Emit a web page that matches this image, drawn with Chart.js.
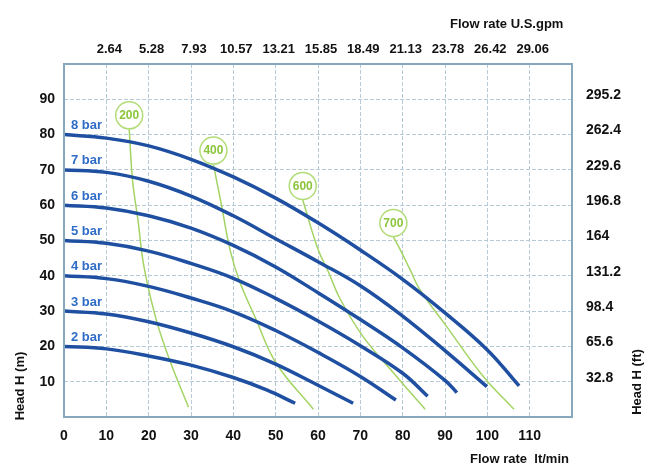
<!DOCTYPE html>
<html>
<head>
<meta charset="utf-8">
<script src="https://cdn.jsdelivr.net/npm/chart.js@4/dist/chart.umd.min.js"></script>
<style>
  html, body { margin: 0; padding: 0; background: #fff; }
  canvas { display: block; }
</style>
</head>
<body>
<canvas id="pump" width="656" height="466"></canvas>
<script>
"use strict";
// pump curves: [flow lt/min, head m]
const bar2 = [[0, 20], [10, 19.3], [20, 17.3], [30, 14.7], [40, 11.2], [48, 7.6], [54.6, 3.9]];
const bar3 = [[0, 30], [10, 29.2], [20, 27], [30, 23.8], [40, 19.9], [50, 15], [60, 9], [68.3, 3.9]];
const bar4 = [[0, 40], [10, 39.2], [20, 37], [30, 33.7], [40, 29.8], [50, 24.5], [60, 18.3], [70, 11.5], [78.4, 4.8]];
const bar5 = [[0, 50], [10, 49.2], [20, 47], [30, 43.5], [40, 39.3], [50, 33.6], [60, 27.2], [70, 20.2], [80, 12.4], [85.9, 5.9]];
const bar6 = [[0, 60], [10, 59.2], [20, 57], [30, 53.5], [40, 48.6], [50, 42.5], [60, 35.2], [70, 27.6], [80, 19.6], [90, 10.4], [92.8, 6.9]];
const bar7 = [[0, 70], [10, 69.3], [20, 66.8], [30, 62.6], [40, 57], [50, 50.5], [60, 44], [70, 37.2], [80, 28.6], [90, 18.8], [99.9, 8.6]];
const bar8 = [[0, 80], [10, 79], [20, 76.8], [30, 73], [40, 68], [50, 62], [60, 55], [70, 47.3], [80, 39], [90, 29.5], [100, 19], [107.5, 8.8]];
const barNames = ['2 bar', '3 bar', '4 bar', '5 bar', '6 bar', '7 bar', '8 bar'];

// air consumption lines (Nl/min)
const air200 = [[15.4, 81.5], [16.2, 67], [17.5, 55.5], [18.9, 42.5], [21.8, 27.5], [25, 16], [29.4, 2.8]];
const air400 = [[35.3, 71.5], [37.2, 60], [39.3, 47], [41.6, 38], [45.1, 28.4], [50.1, 15.3], [58.9, 2.2]];
const air600 = [[56.4, 61.5], [60, 47.5], [62.5, 41], [65.2, 33.5], [70.7, 22.7], [78.6, 11.4], [85.3, 2.2]];
const air700 = [[77.8, 51], [79.6, 47], [81.8, 41.6], [84.1, 36], [90.4, 25.6], [99.1, 11.4], [106.3, 2.2]];
const airNames = ['200', '400', '600', '700'];

// tick labels of the secondary axes
const gpmLabels = ['2.64', '5.28', '7.93', '10.57', '13.21', '15.85', '18.49', '21.13', '23.78', '26.42', '29.06'];
const ftLabels = ['32.8', '65.6', '98.4', '131.2', '164', '196.8', '229.6', '262.4', '295.2'];

const FONT = '"Liberation Sans", Arial, sans-serif';
const toPts = arr => arr.map(p => ({ x: p[0], y: p[1] }));

const datasets = [];
[bar8, bar7, bar6, bar5, bar4, bar3, bar2].forEach((c, i) => {
    datasets.push({
        kind: 'bar',
        tag: barNames[6 - i],
        data: toPts(c),
        borderColor: '#1f4fa0',
        borderWidth: 3.5,
        tension: 0.4,
        pointRadius: 0,
        showLine: true
    });
});
[air200, air400, air600, air700].forEach((c, i) => {
    datasets.push({
        kind: 'air',
        tag: airNames[i],
        data: toPts(c),
        borderColor: '#a3d463',
        borderWidth: 1.5,
        tension: 0.4,
        pointRadius: 0,
        showLine: true
    });
});

const grid = { color: '#b7cad8', lineWidth: 1, drawTicks: false };
const noBorder = { display: false, dash: [4, 2] };

const decor = {
    id: 'decor',
    afterDatasetsDraw(chart) {
        const { ctx, chartArea: a } = chart;
        ctx.save();
        ctx.strokeStyle = '#87a7bb';
        ctx.lineWidth = 2;
        ctx.strokeRect(a.left, a.top, a.right - a.left, a.bottom - a.top);
        chart.data.datasets.forEach((ds, i) => {
            const p = chart.getDatasetMeta(i).data[0];
            if (ds.kind === 'bar') {
                ctx.font = 'bold 13px ' + FONT;
                ctx.fillStyle = '#2f6cc6';
                ctx.textAlign = 'left';
                ctx.textBaseline = 'middle';
                ctx.fillText(ds.tag, p.x + 7, p.y - 9);
            } else {
                const cy = p.y - 14;
                ctx.beginPath();
                ctx.arc(p.x, cy, 13.5, 0, Math.PI * 2);
                ctx.fillStyle = '#fff';
                ctx.fill();
                ctx.strokeStyle = '#b2dc78';
                ctx.lineWidth = 1.5;
                ctx.stroke();
                ctx.font = 'bold 12px ' + FONT;
                ctx.fillStyle = '#8cc43c';
                ctx.textAlign = 'center';
                ctx.textBaseline = 'middle';
                ctx.fillText(ds.tag, p.x, cy + 0.5);
            }
        });
        ctx.restore();
    },
    afterDraw(chart) {
        const ctx = chart.ctx;
        ctx.save();
        ctx.font = 'bold 13px ' + FONT;
        ctx.fillStyle = '#111';
        ctx.textBaseline = 'middle';
        ctx.textAlign = 'left';
        ctx.fillText('Flow rate U.S.gpm', 450, 24);
        ctx.fillText('Flow rate  lt/min', 470, 459);
        ctx.textAlign = 'center';
        ctx.translate(20, 386);
        ctx.rotate(-Math.PI / 2);
        ctx.fillText('Head H (m)', 0, 0);
        ctx.restore();
        ctx.save();
        ctx.font = 'bold 13px ' + FONT;
        ctx.fillStyle = '#111';
        ctx.textBaseline = 'middle';
        ctx.textAlign = 'center';
        ctx.translate(637, 382);
        ctx.rotate(-Math.PI / 2);
        ctx.fillText('Head H (ft)', 0, 0);
        ctx.restore();
    }
};

new Chart(document.getElementById('pump'), {
    type: 'scatter',
    data: { datasets: datasets },
    options: {
        responsive: false,
        devicePixelRatio: 1,
        animation: false,
        layout: { padding: 0 },
        plugins: { legend: { display: false }, tooltip: { enabled: false } },
        scales: {
            x: {
                type: 'linear', position: 'bottom', min: 0, max: 120,
                grid: grid, border: noBorder,
                afterFit: s => { s.height = 49; },
                ticks: {
                    stepSize: 10, padding: 11, color: '#111',
                    font: { family: FONT, size: 14, weight: 'bold' },
                    callback: v => (v === 120 ? null : v)
                }
            },
            x2: {
                type: 'linear', position: 'top', min: 0, max: 120,
                grid: { display: false, drawTicks: false }, border: { display: false },
                afterFit: s => { s.height = 64; },
                ticks: {
                    stepSize: 10, padding: 7, labelOffset: 3, color: '#111',
                    font: { family: FONT, size: 13, weight: 'bold' },
                    callback: v => (v > 0 && v < 120 ? gpmLabels[v / 10 - 1] : null)
                }
            },
            y: {
                type: 'linear', position: 'left', min: 0, max: 100,
                grid: grid, border: noBorder,
                afterFit: s => { s.width = 64; },
                ticks: {
                    stepSize: 10, padding: 9, color: '#111',
                    font: { family: FONT, size: 14, weight: 'bold' },
                    callback: v => (v > 0 && v < 100 ? v : null)
                }
            },
            y2: {
                type: 'linear', position: 'right', min: 0, max: 100,
                grid: { display: false, drawTicks: false }, border: { display: false },
                afterFit: s => { s.width = 84; },
                ticks: {
                    stepSize: 10, padding: 14, labelOffset: -4, color: '#111',
                    font: { family: FONT, size: 14, weight: 'bold' },
                    callback: v => (v > 0 && v < 100 ? ftLabels[v / 10 - 1] : null)
                }
            }
        }
    },
    plugins: [decor]
});
</script>
</body>
</html>
